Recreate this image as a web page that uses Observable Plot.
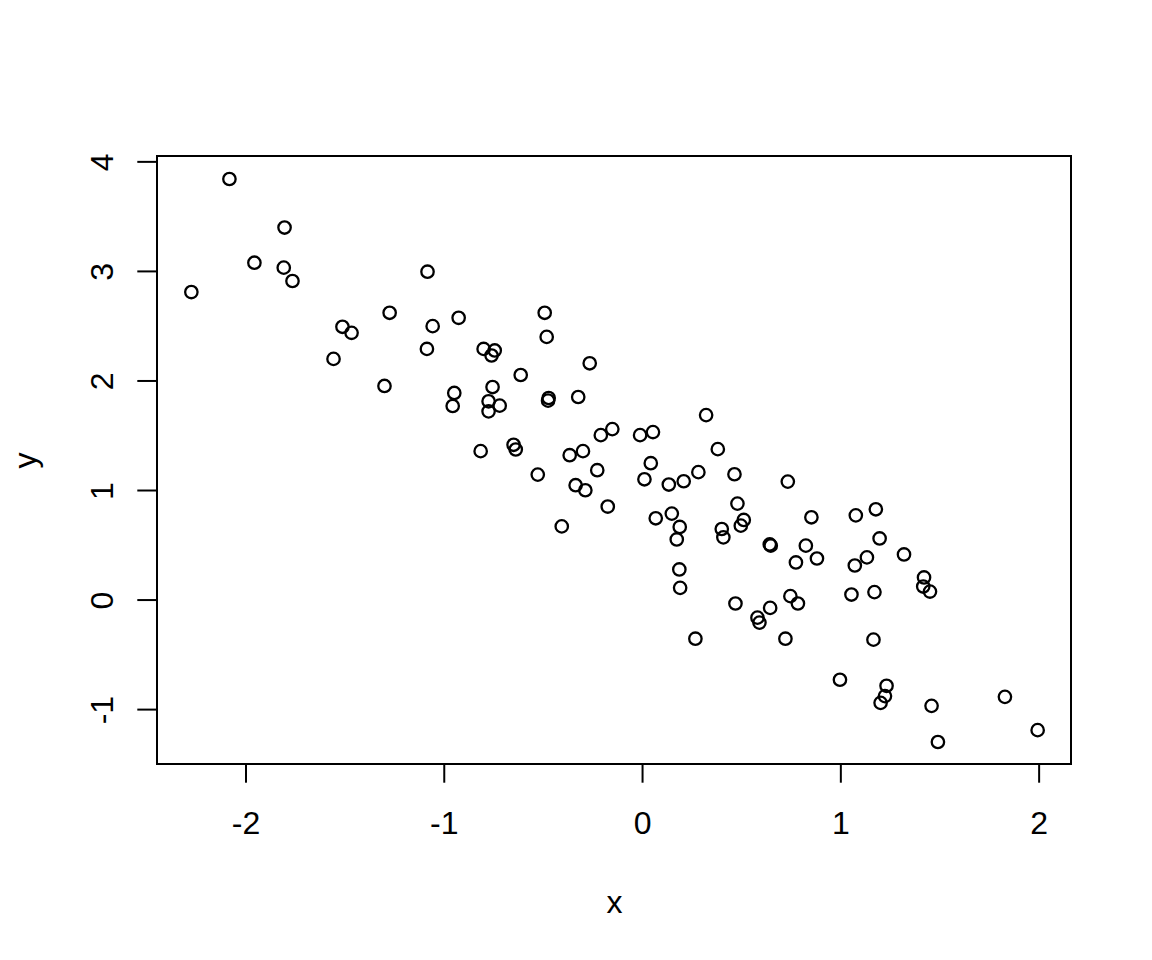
<!DOCTYPE html>
<html>
<head>
<meta charset="utf-8">
<script src="https://cdn.jsdelivr.net/npm/d3@7"></script>
<script src="https://cdn.jsdelivr.net/npm/@observablehq/plot@0.6"></script>
<style>
  html, body { margin: 0; padding: 0; background: white; }
</style>
</head>
<body>
<div id="chart"></div>
<script>
const xs = [
  -2.086, -1.808, -1.960, -1.812, -1.768, -2.278, -1.087, -1.278, -1.516, -1.470,
  -1.061, -0.930, -1.561, -1.090, -1.304, -0.804, -0.748, -0.764, -0.496, -0.486,
  -0.617, -0.269, -0.952, -0.960, -0.759, -0.779, -0.723, -0.779, -0.476, -0.479,
  -0.327, -0.819, -0.653, -0.642, -0.531, -0.370, -0.303, -0.213, -0.155, -0.231,
  -0.340, -0.291, -0.178, -0.410, -0.015, 0.050, 0.039, 0.007, 0.130, 0.205,
  0.279, 0.318, 0.377, 0.461, 0.064, 0.145, 0.476, 0.508, 0.493, 0.397,
  0.405, 0.185, 0.170, 0.183, 0.187, 0.639, 0.644, 0.730, 0.849, 0.821,
  0.877, 0.771, 1.073, 1.174, 1.193, 1.129, 1.068, 1.316, 1.417, 1.413,
  1.447, 1.051, 1.167, 0.743, 0.781, 0.466, 0.641, 0.577, 0.587, 0.264,
  0.718, 1.162, 0.993, 1.228, 1.220, 1.198, 1.455, 1.825, 1.487, 1.990
];
const ys = [
  3.848, 3.405, 3.084, 3.039, 2.917, 2.816, 3.002, 2.627, 2.499, 2.444,
  2.505, 2.581, 2.206, 2.297, 1.959, 2.297, 2.283, 2.237, 2.627, 2.407,
  2.059, 2.166, 1.895, 1.776, 1.949, 1.819, 1.779, 1.727, 1.849, 1.825,
  1.858, 1.364, 1.422, 1.379, 1.150, 1.327, 1.364, 1.510, 1.565, 1.190,
  1.053, 1.007, 0.858, 0.677, 1.510, 1.538, 1.254, 1.107, 1.059, 1.089,
  1.172, 1.693, 1.382, 1.153, 0.751, 0.794, 0.885, 0.736, 0.684, 0.653,
  0.577, 0.672, 0.558, 0.284, 0.116, 0.513, 0.501, 1.086, 0.760, 0.501,
  0.384, 0.348, 0.778, 0.833, 0.567, 0.394, 0.320, 0.421, 0.211, 0.128,
  0.082, 0.055, 0.077, 0.040, -0.027, -0.027, -0.067, -0.156, -0.201, -0.348,
  -0.348, -0.357, -0.723, -0.778, -0.872, -0.934, -0.961, -0.879, -1.291, -1.183
];
const xTicks = [-2, -1, 0, 1, 2];
const xTickLabels = ["-2", "-1", "0", "1", "2"];
const yTicks = [-1, 0, 1, 2, 3, 4];
const yTickLabels = ["-1", "0", "1", "2", "3", "4"];
const xLabel = "x";
const yLabel = "y";

const points = xs.map((x, i) => ({x, y: ys[i]}));

// R-style axis limits: data range extended by 4% on each side
function rRange(v) {
  const [lo, hi] = d3.extent(v);
  const pad = (hi - lo) * 0.04;
  return [lo - pad, hi + pad];
}

const font = '"Liberation Sans", Arial, Helvetica, sans-serif';

const chart = Plot.plot({
  width: 1152,
  height: 960,
  marginLeft: 157,
  marginRight: 81,
  marginTop: 156,
  marginBottom: 196,
  style: {fontFamily: font, fontSize: "32px", color: "black", background: "white"},
  x: {domain: rRange(xs)},
  y: {domain: rRange(ys)},
  marks: [
    Plot.frame({stroke: "black", strokeWidth: 2, dx: -0.5, dy: -0.5}),
    Plot.axisX(xTicks, {
      anchor: "bottom",
      tickSize: 19.2,
      tickPadding: 28,
      strokeWidth: 2,
      fontSize: 32,
      label: null,
      dx: -0.5,
      dy: -0.5,
      tickFormat: (d, i) => xTickLabels[i]
    }),
    Plot.axisY(yTicks, {
      anchor: "left",
      tickSize: 19.2,
      strokeWidth: 2,
      label: null,
      dx: -0.5,
      dy: -0.5,
      tickFormat: () => ""
    }),
    Plot.text(yTicks, {
      y: d => d,
      text: (d, i) => yTickLabels[i],
      frameAnchor: "left",
      dx: -45,
      rotate: -90,
      lineAnchor: "bottom",
      textAnchor: "middle",
      fontSize: 32
    }),
    Plot.text([xLabel], {
      frameAnchor: "bottom",
      lineAnchor: "bottom",
      dy: 148,
      fontSize: 32
    }),
    Plot.text([yLabel], {
      frameAnchor: "left",
      dx: -122,
      rotate: -90,
      lineAnchor: "bottom",
      textAnchor: "middle",
      fontSize: 32
    }),
    Plot.dot(points, {x: "x", y: "y", r: 6.2, stroke: "black", strokeWidth: 2.3, fill: "none"})
  ]
});

document.getElementById("chart").appendChild(chart);
</script>
</body>
</html>
